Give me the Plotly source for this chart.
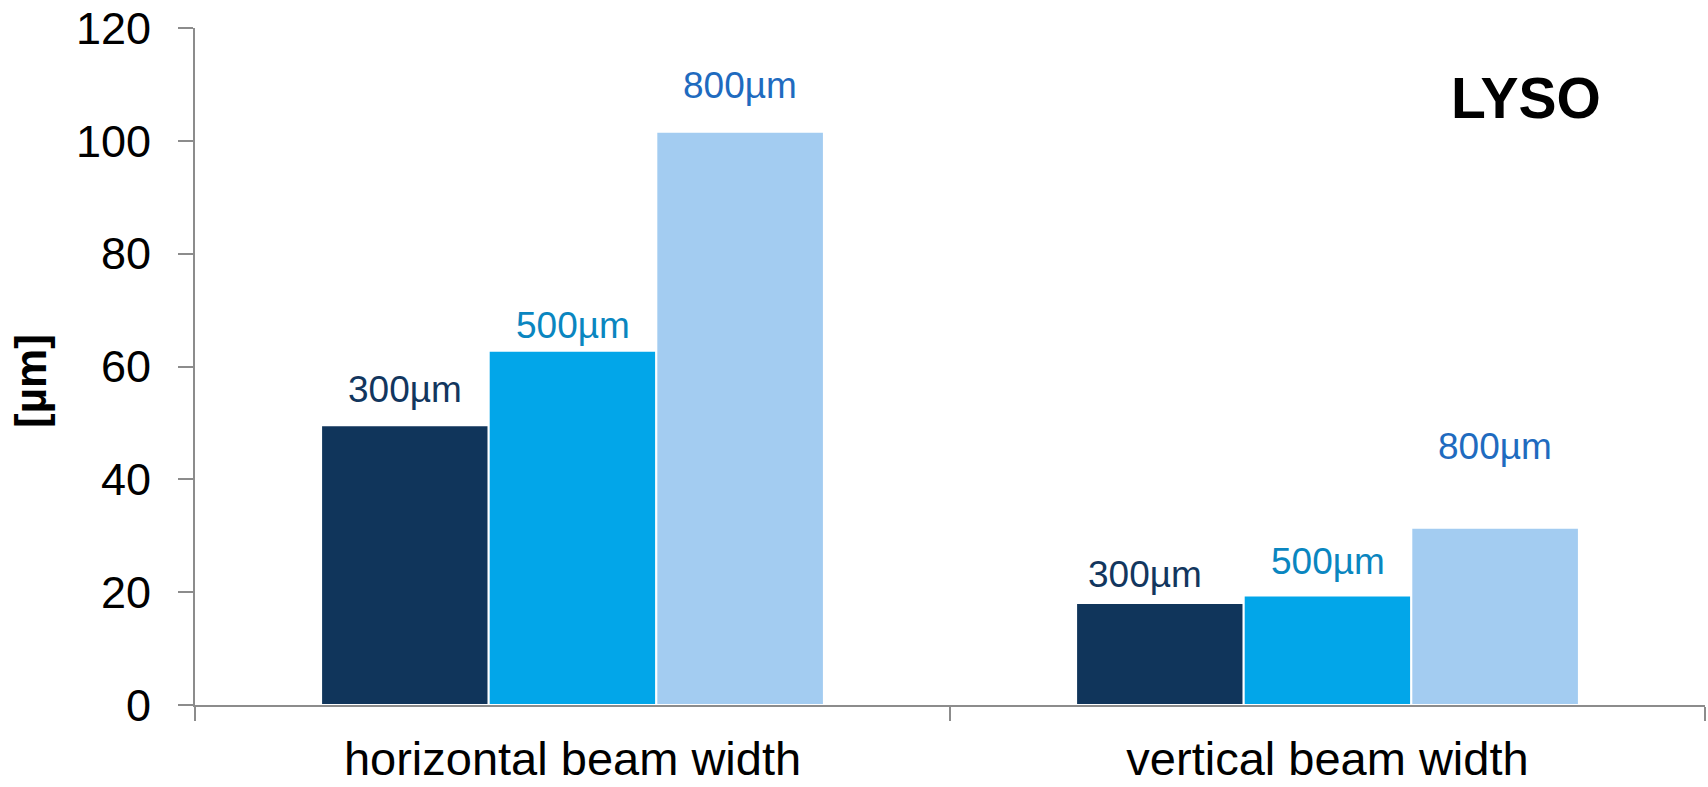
import plotly.graph_objects as go

# Beam width measurements for the LYSO crystal, by collimator size
categories = ["horizontal beam width", "vertical beam width"]
series_names = ["300µm", "500µm", "800µm"]
values_300 = [49.6, 18.1]
values_500 = [62.8, 19.4]
values_800 = [101.6, 31.4]
y_ticks = [0, 20, 40, 60, 80, 100, 120]
y_title = "[µm]"
tag = "LYSO"

series_values = [values_300, values_500, values_800]
bar_colors = ["#10355b", "#02a6e9", "#a3ccf1"]
label_colors = ["#12365e", "#0a86c0", "#1f6bbf"]
# label placement above each bar top, in pixels (per series, per category)
label_dy = [[36, 28], [25, 34], [46, 81]]
label_dx = [[0, -15], [0, 0], [0, 0]]

FONT = "Liberation Sans, Arial, sans-serif"
W, H = 1708, 787
M_L, M_R, M_T, M_B = 195, 3, 28, 82
BARGAP = 0.334

plot_w = W - M_L - M_R
plot_h = H - M_T - M_B


def px_to_paper(x_px, y_px):
    return (x_px - M_L) / plot_w, 1 - (y_px - M_T) / plot_h


fig = go.Figure()
for name, vals, col in zip(series_names, series_values, bar_colors):
    fig.add_trace(go.Bar(
        x=categories, y=vals, name=name,
        marker=dict(color=col, line=dict(color="white", width=2)),
        showlegend=False, hoverinfo="skip",
    ))

# pixel width of one bar inside a group, used to centre each label over its bar
n = len(series_names)
bar_px = plot_w / len(categories) * (1 - BARGAP) / n

for i, (name, vals) in enumerate(zip(series_names, series_values)):
    for j, cat in enumerate(categories):
        fig.add_annotation(
            x=cat, y=vals[j], xref="x", yref="y",
            text=name, showarrow=False,
            xshift=(i - (n - 1) / 2) * bar_px + label_dx[i][j],
            yshift=label_dy[i][j],
            font=dict(family=FONT, size=37, color=label_colors[i]),
            xanchor="center", yanchor="middle",
        )

tx, ty = px_to_paper(1526, 98)
fig.add_annotation(
    x=tx, y=ty, xref="paper", yref="paper", text=f"<b>{tag}</b>",
    showarrow=False, font=dict(family=FONT, size=57, color="black"),
    xanchor="center", yanchor="middle",
)

# y-axis title, set slightly below the plot's mid-height
ax, ay = px_to_paper(30, 381)
fig.add_annotation(
    x=ax, y=ay, xref="paper", yref="paper", text=f"<b>{y_title}</b>",
    textangle=-90, showarrow=False,
    font=dict(family=FONT, size=44, color="black"),
    xanchor="center", yanchor="middle",
)

fig.update_layout(
    width=W, height=H,
    margin=dict(l=M_L, r=M_R, t=M_T, b=M_B, autoexpand=False),
    paper_bgcolor="white", plot_bgcolor="white",
    barmode="group", bargap=BARGAP, bargroupgap=0,
    font=dict(family=FONT, color="black"),
    xaxis=dict(
        showline=True, linecolor="#8c8c8c", linewidth=2,
        ticks="outside", tickson="boundaries", ticklen=14, tickwidth=2,
        tickcolor="#8c8c8c", tickfont=dict(size=47, color="black"),
        ticklabelstandoff=12,
        showgrid=False, fixedrange=True,
    ),
    yaxis=dict(
        range=[0, 120], tickvals=y_ticks,
        showline=True, linecolor="#8c8c8c", linewidth=2,
        ticks="outside", ticklen=15, tickwidth=2, tickcolor="#8c8c8c",
        tickfont=dict(size=45, color="black"),
        ticklabelstandoff=18,
        showgrid=False, zeroline=False,
    ),
)

fig.write_html("out.html")
